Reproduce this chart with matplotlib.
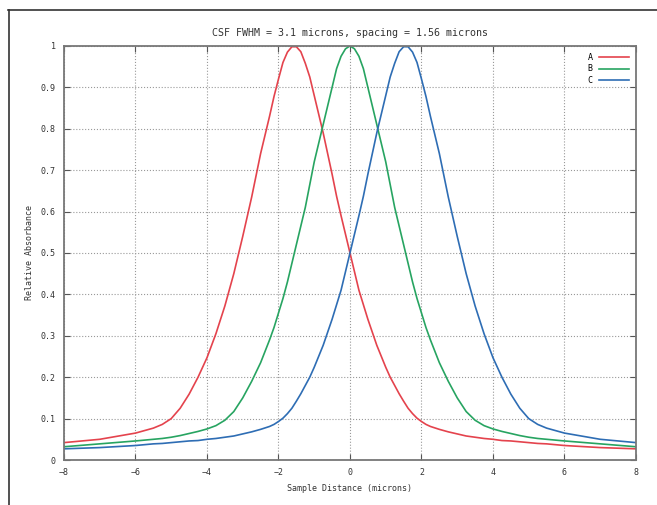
import matplotlib
matplotlib.use("Agg")
import matplotlib.pyplot as plt
from matplotlib.lines import Line2D

# sample positions (microns)
x_vals = [-8, -7, -6, -5.5, -5.25, -5, -4.75, -4.5, -4.25, -4,
          -3.75, -3.5, -3.25, -3, -2.75, -2.5, -2.25, -2.125, -2, -1.875,
          -1.75, -1.625, -1.5, -1.375, -1.25, -1.125, -1, -0.75, -0.5, -0.375,
          -0.25, -0.125, 0,
          0.125, 0.25, 0.375, 0.5, 0.75, 1, 1.125, 1.25, 1.375, 1.5,
          1.625, 1.75, 1.875, 2, 2.125, 2.25, 2.5, 2.75, 3, 3.25,
          3.5, 3.75, 4, 4.25, 4.5, 4.75, 5, 5.25, 5.5, 6,
          7, 8]

a_vals = [0.042, 0.050, 0.065, 0.077, 0.086, 0.100, 0.125, 0.159, 0.20, 0.247,
          0.305, 0.372, 0.45, 0.54, 0.635, 0.74, 0.83, 0.878, 0.92, 0.96,
          0.985, 0.998, 0.998, 0.986, 0.958, 0.925, 0.88, 0.79, 0.69, 0.637,
          0.59, 0.545, 0.50,
          0.455, 0.41, 0.375, 0.34, 0.277, 0.224, 0.20, 0.18, 0.16, 0.142,
          0.125, 0.112, 0.101, 0.093, 0.086, 0.081, 0.074, 0.068, 0.063, 0.058,
          0.055, 0.052, 0.050, 0.047, 0.046, 0.044, 0.042, 0.040, 0.039, 0.035,
          0.030, 0.027]

b_vals = [0.032, 0.039, 0.046, 0.050, 0.052, 0.055, 0.059, 0.064, 0.069, 0.075,
          0.083, 0.096, 0.117, 0.15, 0.19, 0.235, 0.29, 0.32, 0.355, 0.39,
          0.43, 0.475, 0.52, 0.565, 0.61, 0.665, 0.72, 0.81, 0.90, 0.945,
          0.975, 0.993, 1.0,
          0.993, 0.975, 0.945, 0.90, 0.81, 0.72, 0.665, 0.61, 0.565, 0.52,
          0.475, 0.43, 0.39, 0.355, 0.32, 0.29, 0.235, 0.19, 0.15, 0.117,
          0.096, 0.083, 0.075, 0.069, 0.064, 0.059, 0.055, 0.052, 0.050, 0.046,
          0.039, 0.032]

c_vals = [0.027, 0.030, 0.035, 0.039, 0.040, 0.042, 0.044, 0.046, 0.047, 0.050,
          0.052, 0.055, 0.058, 0.063, 0.068, 0.074, 0.081, 0.086, 0.093, 0.101,
          0.112, 0.125, 0.142, 0.16, 0.18, 0.20, 0.224, 0.277, 0.34, 0.375,
          0.41, 0.455, 0.50,
          0.545, 0.59, 0.637, 0.69, 0.79, 0.88, 0.925, 0.958, 0.986, 0.998,
          0.998, 0.985, 0.96, 0.92, 0.878, 0.83, 0.74, 0.635, 0.54, 0.45,
          0.372, 0.305, 0.247, 0.20, 0.159, 0.125, 0.100, 0.086, 0.077, 0.065,
          0.050, 0.042]

labels = ["A", "B", "C"]
colors = ["#e4434d", "#27a461", "#2e6db4"]
x_ticks = [-8, -6, -4, -2, 0, 2, 4, 6, 8]
y_ticks = [0, 0.1, 0.2, 0.3, 0.4, 0.5, 0.6, 0.7, 0.8, 0.9, 1]
y_tick_labels = ["0", "0.1", "0.2", "0.3", "0.4", "0.5", "0.6", "0.7", "0.8", "0.9", "1"]

plt.rcParams['font.family'] = ['DejaVu Sans Mono']
plt.rcParams['font.size'] = 6

fig = plt.figure(figsize=(6.57, 5.05), dpi=100)
ax = fig.add_axes([0.0974, 0.0891, 0.8706, 0.8200])

for ys, lab, col in zip([a_vals, b_vals, c_vals], labels, colors):
    ax.plot(x_vals, ys, color=col, lw=1.2, label=lab)

ax.set_xlim(-8, 8)
ax.set_ylim(0, 1)
ax.set_xticks(x_ticks)
ax.set_yticks(y_ticks)
ax.set_yticklabels(y_tick_labels)
ax.tick_params(direction='in', top=True, right=True, length=4, width=0.8,
               colors='#555555', labelcolor='#333333', pad=6)
ax.grid(True, linestyle=':', color='#999999', linewidth=0.8)
for sp in ax.spines.values():
    sp.set_color('#777777')
    sp.set_linewidth(1.3)

ax.set_title("CSF FWHM = 3.1 microns, spacing = 1.56 microns",
             color='#333333', pad=7)
ax.set_xlabel("Sample Distance (microns)", color='#333333', labelpad=5)
ax.set_ylabel("Relative Absorbance", color='#333333', labelpad=5)

ax.legend(loc='upper right', frameon=False, markerfirst=False, handlelength=3.6,
          labelspacing=0.35, borderaxespad=0.4)

# outer page frame
fig.add_artist(Line2D([0.012, 1.0], [0.980, 0.980], color='#333333', lw=1.2))
fig.add_artist(Line2D([0.013, 0.013], [0.0, 0.980], color='#333333', lw=1.2))

fig.savefig("out.png", dpi=100)
